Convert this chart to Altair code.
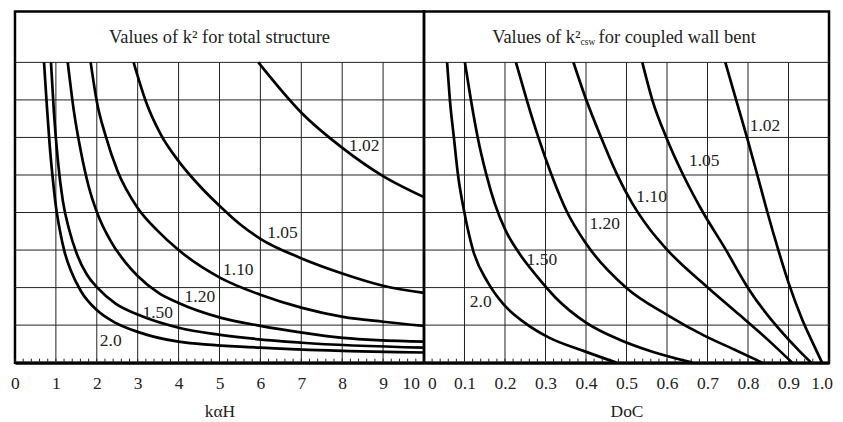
import altair as alt
import pandas as pd

FONT = "Liberation Serif"
TXT = "#222222"

# ---------------- data ----------------
# Left panel: values of k^2 for total structure, x = k*alpha*H
L_NAMES = ["2.0", "1.50", "1.20", "1.10", "1.05", "1.02"]
L_20_X = [0.71, 0.78, 0.85, 0.93, 1.0, 1.10, 1.22, 1.37, 1.61, 2.02, 2.46, 3.0, 4.0, 6.0, 10.0]
L_20_Y = [8.0, 6.83, 5.77, 4.84, 4.17, 3.51, 2.92, 2.44, 1.91, 1.38, 1.06, 0.82, 0.56, 0.40, 0.27]
L_150_X = [0.88, 0.95, 1.05, 1.17, 1.32, 1.51, 1.76, 2.02, 2.46, 3.0, 4.0, 5.02, 7.02, 10.0]
L_150_Y = [8.0, 6.70, 5.37, 4.31, 3.56, 2.90, 2.34, 1.99, 1.57, 1.28, 0.93, 0.74, 0.53, 0.40]
L_120_X = [1.29, 1.44, 1.61, 1.80, 2.02, 2.34, 2.71, 3.0, 3.51, 4.0, 5.02, 6.0, 7.02, 8.02, 10.0]
L_120_Y = [8.0, 6.70, 5.63, 4.70, 3.96, 3.24, 2.66, 2.31, 1.86, 1.59, 1.20, 0.98, 0.80, 0.66, 0.56]
L_110_X = [1.85, 2.0, 2.22, 2.51, 3.0, 3.49, 4.0, 5.02, 6.0, 7.02, 8.02, 9.0, 10.0]
L_110_Y = [8.0, 6.96, 6.03, 5.10, 4.12, 3.51, 3.0, 2.26, 1.81, 1.46, 1.22, 1.09, 0.98]
L_105_X = [2.90, 3.20, 3.56, 4.0, 4.54, 4.98, 5.51, 6.0, 6.98, 8.02, 9.0, 10.0]
L_105_Y = [8.0, 6.96, 6.09, 5.37, 4.68, 4.20, 3.68, 3.30, 2.79, 2.37, 2.05, 1.86]
L_102_X = [5.95, 7.02, 8.02, 9.0, 10.0]
L_102_Y = [8.0, 6.64, 5.71, 4.97, 4.41]
L_LABEL_X = [2.34, 3.49, 4.52, 5.46, 6.54, 8.54]
L_LABEL_Y = [0.58, 1.33, 1.75, 2.47, 3.46, 5.77]

# Right panel: values of k^2_csw for coupled wall bent, x = DoC
R_20_X = [0.057, 0.064, 0.074, 0.084, 0.099, 0.121, 0.158, 0.195, 0.249, 0.310, 0.392, 0.475]
R_20_Y = [8.0, 6.99, 5.98, 5.0, 4.04, 3.0, 2.13, 1.57, 1.06, 0.66, 0.32, 0.0]
R_150_X = [0.101, 0.116, 0.133, 0.153, 0.175, 0.202, 0.236, 0.278, 0.325, 0.401, 0.483, 0.564, 0.663]
R_150_Y = [8.0, 6.99, 5.98, 5.05, 4.23, 3.51, 2.90, 2.31, 1.73, 1.06, 0.61, 0.29, 0.0]
R_120_X = [0.227, 0.254, 0.283, 0.315, 0.352, 0.401, 0.5, 0.599, 0.692, 0.766, 0.835]
R_120_Y = [8.0, 6.99, 5.98, 5.0, 4.04, 3.16, 1.99, 1.28, 0.72, 0.35, 0.0]
R_110_X = [0.369, 0.401, 0.438, 0.475, 0.515, 0.557, 0.601, 0.702, 0.778, 0.852, 0.909]
R_110_Y = [8.0, 6.99, 5.98, 5.05, 4.23, 3.56, 3.0, 1.99, 1.28, 0.58, 0.0]
R_105_X = [0.539, 0.564, 0.599, 0.640, 0.687, 0.744, 0.800, 0.926, 0.956]
R_105_Y = [8.0, 6.99, 5.98, 5.0, 4.04, 3.03, 1.99, 0.32, 0.0]
R_102_X = [0.744, 0.771, 0.798, 0.823, 0.847, 0.874, 0.901, 0.933, 0.961, 0.983]
R_102_Y = [8.0, 6.99, 5.98, 5.0, 4.04, 3.03, 2.10, 1.17, 0.50, 0.0]
R_LABEL_X = [0.140, 0.291, 0.446, 0.562, 0.692, 0.842]
R_LABEL_Y = [1.62, 2.74, 3.69, 4.41, 5.36, 6.30]

L_TICKS = [0, 1, 2, 3, 4, 5, 6, 7, 8, 9, 10]
R_TICKS = [0, 0.1, 0.2, 0.3, 0.4, 0.5, 0.6, 0.7, 0.8, 0.9, 1.0]
# tick labels that sit squeezed at the panel edges
L_EDGE = [{"v": 10, "t": "10", "align": "right", "dx": -4}]
R_EDGE = [{"v": 0, "t": "0", "align": "left", "dx": 4},
          {"v": 1.0, "t": "1.0", "align": "right", "dx": 4}]
L_MINOR = [i / 5 for i in range(51)]
R_MINOR = [i / 50 for i in range(51)]
H_GRID = [1, 2, 3, 4, 5, 6, 7, 8]

# ---------------- layout constants ----------------
HEIGHT = 352
YTOP = 9.356
YMID = (8 + YTOP) / 2
LBL = 17.5


def curves_df(names, xs, ys):
    rows = []
    for n, cx, cy in zip(names, xs, ys):
        for i, (a, b) in enumerate(zip(cx, cy)):
            rows.append({"curve": n, "i": i, "x": a, "y": b})
    return pd.DataFrame(rows)


def panel(names, xs, ys, lab_x, lab_y, ticks, minor, domain, width, xtitle,
          label_expr, edges, titles):
    xs_scale = alt.Scale(domain=domain, nice=False, zero=False)
    ys_scale = alt.Scale(domain=[0, YTOP], nice=False, zero=False)
    axis = alt.Axis(
        values=ticks, title=xtitle, titleFont=FONT, titleFontSize=LBL,
        titleFontWeight="normal", titleColor=TXT, labelFont=FONT,
        labelFontSize=LBL, labelColor=TXT, ticks=False, grid=False,
        domain=True, domainColor="black", domainWidth=3, labelPadding=12,
        titlePadding=10, labelFlush=False, labelOverlap=False,
        labelBound=False, labelExpr=label_expr,
    )
    X = lambda f: alt.X(f, type="quantitative", scale=xs_scale, axis=axis)
    Y = lambda f: alt.Y(f, type="quantitative", scale=ys_scale, axis=None)

    gx = ticks[1:-1]
    vgrid = alt.Chart(pd.DataFrame({"gx": gx, "gy0": [0] * len(gx), "gy1": [8] * len(gx)})).mark_rule(
        color="#222", strokeWidth=1
    ).encode(x=X("gx"), y=Y("gy0"), y2="gy1")
    hgrid = alt.Chart(pd.DataFrame({"gy": H_GRID})).mark_rule(
        color="#222", strokeWidth=1
    ).encode(y=Y("gy"))
    mticks = alt.Chart(pd.DataFrame({"mx": minor})).mark_rule(
        color="#222", strokeWidth=1
    ).encode(x=X("mx"), y=alt.value(HEIGHT), y2=alt.value(HEIGHT - 4))
    lines = alt.Chart(curves_df(names, xs, ys)).mark_line(
        color="black", strokeWidth=2.7, interpolate="monotone"
    ).encode(x=X("x"), y=Y("y"), detail="curve:N", order="i:Q")
    labels = alt.Chart(pd.DataFrame({"lx": lab_x, "ly": lab_y, "t": names})).mark_text(
        font=FONT, fontSize=LBL, color=TXT
    ).encode(x=X("lx"), y=Y("ly"), text="t:N")
    layers = [vgrid, hgrid, mticks, lines, labels]
    for e in edges:
        layers.append(
            alt.Chart(pd.DataFrame({"ex": [e["v"]], "t": [e["t"]]})).mark_text(
                font=FONT, fontSize=LBL, color=TXT, align=e["align"], dx=e["dx"],
                baseline="top"
            ).encode(x=X("ex"), y=alt.value(HEIGHT + 12), text="t:N")
        )
    cx = (domain[0] + domain[1]) / 2
    for txt, size, align, dx, dy in titles:
        layers.append(
            alt.Chart(pd.DataFrame({"tx": [cx], "ty": [YMID], "t": [txt]})).mark_text(
                font=FONT, fontSize=size, color=TXT, align=align, dx=dx, dy=dy,
                baseline="middle"
            ).encode(x=X("tx"), y=Y("ty"), text="t:N")
        )
    return alt.layer(*layers).properties(width=width, height=HEIGHT)


left = panel(
    L_NAMES,
    [L_20_X, L_150_X, L_120_X, L_110_X, L_105_X, L_102_X],
    [L_20_Y, L_150_Y, L_120_Y, L_110_Y, L_105_Y, L_102_Y],
    L_LABEL_X, L_LABEL_Y, L_TICKS, L_MINOR, [0, 10], 410, "kαH",
    "datum.value == 10 ? '' : datum.label", L_EDGE,
    [("Values of k² for total structure", 18.5, "center", 0, 0)],
)

right = panel(
    L_NAMES,
    [R_20_X, R_150_X, R_120_X, R_110_X, R_105_X, R_102_X],
    [R_20_Y, R_150_Y, R_120_Y, R_110_Y, R_105_Y, R_102_Y],
    R_LABEL_X, R_LABEL_Y, R_TICKS, R_MINOR, [0, 1], 406, "DoC",
    "(datum.value == 0 || datum.value == 1) ? '' : format(datum.value, '.1f')", R_EDGE,
    [("Values of k²", 18.5, "right", -46, 0),
     ("csw", 9.5, "left", -46, 5),
     ("for coupled wall bent", 18.5, "left", -28, 0)],
)

chart = alt.hconcat(left, right, spacing=0, bounds="flush").properties(
    padding={"left": 1, "top": 1, "right": 0, "bottom": 2}
).configure_view(stroke="black", strokeWidth=2.5)

chart.save("out.html", embed_options={"renderer": "svg", "actions": False})
